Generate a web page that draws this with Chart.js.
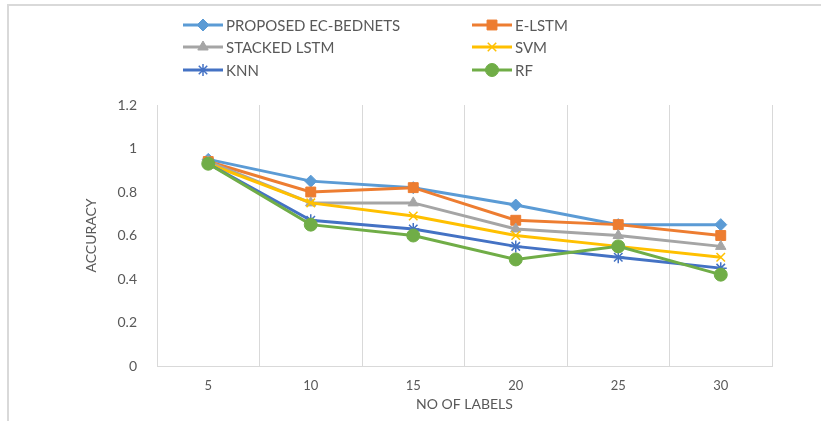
<!DOCTYPE html>
<html>
<head>
<meta charset="utf-8">
<script src="https://cdn.jsdelivr.net/npm/chart.js@4/dist/chart.umd.min.js"></script>
<style>
  html, body { margin: 0; padding: 0; background: #fff; }
  #wrap { width: 821px; height: 421px; }
</style>
</head>
<body>
<div id="wrap"><canvas id="accChart" width="821" height="421"></canvas></div>
<script>
var labels = ['5', '10', '15', '20', '25', '30'];
var seriesNames = ['PROPOSED EC-BEDNETS', 'E-LSTM', 'STACKED LSTM', 'SVM', 'KNN', 'RF'];
var bednets = [0.95, 0.85, 0.82, 0.74, 0.65, 0.65];
var elstm = [0.94, 0.80, 0.82, 0.67, 0.65, 0.60];
var stacked = [0.94, 0.75, 0.75, 0.63, 0.60, 0.55];
var svm = [0.93, 0.75, 0.69, 0.60, 0.55, 0.50];
var knn = [0.93, 0.67, 0.63, 0.55, 0.50, 0.45];
var rf = [0.93, 0.65, 0.60, 0.49, 0.55, 0.42];

var colors = ['#5B9BD5', '#ED7D31', '#A5A5A5', '#FFC000', '#4472C4', '#70AD47'];
var markers = ['rectRot', 'rect', 'triangle', 'crossRot', 'star', 'circle'];
var radii = [6, 7, 6, 6, 6, 6.5];
var values = [bednets, elstm, stacked, svm, knn, rf];

var fontFam = 'Lato, "Open Sans", sans-serif';
var textColor = '#595959';

var datasets = values.map(function (v, i) {
  return {
    label: seriesNames[i],
    data: v,
    borderColor: colors[i],
    backgroundColor: colors[i],
    pointBackgroundColor: colors[i],
    pointBorderColor: colors[i],
    pointStyle: markers[i],
    pointRadius: radii[i],
    pointBorderWidth: (markers[i] === 'crossRot' || markers[i] === 'star') ? 1.5 : 1,
    borderWidth: 3,
    tension: 0,
    order: values.length - i
  };
});

// legend drawn in two columns like the original
var legendPlugin = {
  id: 'twoColLegend',
  beforeDraw: function (chart) {
    var ctx = chart.ctx;
    ctx.save();
    ctx.strokeStyle = '#d9d9d9';
    ctx.lineWidth = 2;
    ctx.beginPath();
    ctx.moveTo(8, 421);
    ctx.lineTo(8, 5);
    ctx.lineTo(821, 5);
    ctx.stroke();
    ctx.restore();
  },
  afterDraw: function (chart) {
    var ctx = chart.ctx;
    var colX = [183, 472];
    var rowY = [25, 47, 70];
    ctx.save();
    chart.data.datasets.forEach(function (ds, i) {
      var x = colX[i % 2];
      var y = rowY[Math.floor(i / 2)];
      ctx.strokeStyle = ds.borderColor;
      ctx.lineWidth = 3;
      ctx.beginPath();
      ctx.moveTo(x, y);
      ctx.lineTo(x + 40, y);
      ctx.stroke();
      ctx.fillStyle = ds.pointBackgroundColor;
      ctx.strokeStyle = ds.pointBorderColor;
      ctx.lineWidth = ds.pointBorderWidth;
      Chart.helpers.drawPoint(ctx, {
        pointStyle: ds.pointStyle,
        radius: ds.pointRadius,
        borderWidth: ds.pointBorderWidth,
        rotation: 0
      }, x + 20, y);
      ctx.fillStyle = textColor;
      ctx.font = '15px ' + fontFam;
      ctx.textBaseline = 'middle';
      ctx.textAlign = 'left';
      ctx.fillText(ds.label, x + 43, y + 1);
    });
    ctx.restore();
  }
};

var ctx = document.getElementById('accChart').getContext('2d');
var accChart = new Chart(ctx, {
  type: 'line',
  data: { labels: labels, datasets: datasets },
  plugins: [legendPlugin],
  options: {
    responsive: false,
    animation: false,
    layout: { padding: { left: 75, top: 105, right: 49, bottom: 0 } },
    plugins: {
      legend: { display: false },
      tooltip: { enabled: false }
    },
    scales: {
      x: {
        offset: true,
        grid: { offset: true, color: '#d9d9d9', lineWidth: 1, drawTicks: false },
        border: { color: '#d9d9d9' },
        ticks: { color: textColor, font: { family: fontFam, size: 13 }, padding: 12 },
        title: { display: true, text: 'NO OF LABELS', color: textColor, font: { family: fontFam, size: 14 }, padding: { top: 0, bottom: 8 } },
        afterFit: function (scale) { scale.height = 55; }
      },
      y: {
        min: 0,
        max: 1.2,
        grid: { display: false, drawTicks: false },
        border: { display: true, color: '#d9d9d9' },
        ticks: {
          stepSize: 0.2,
          color: textColor,
          font: { family: fontFam, size: 14 },
          padding: 20,
          callback: function (v) { return String(Math.round(v * 10) / 10); }
        },
        title: { display: true, text: 'ACCURACY', color: textColor, font: { family: fontFam, size: 14 }, padding: { top: 8, bottom: 0 } },
        afterFit: function (scale) { scale.width = 82; }
      }
    }
  }
});
</script>
</body>
</html>
